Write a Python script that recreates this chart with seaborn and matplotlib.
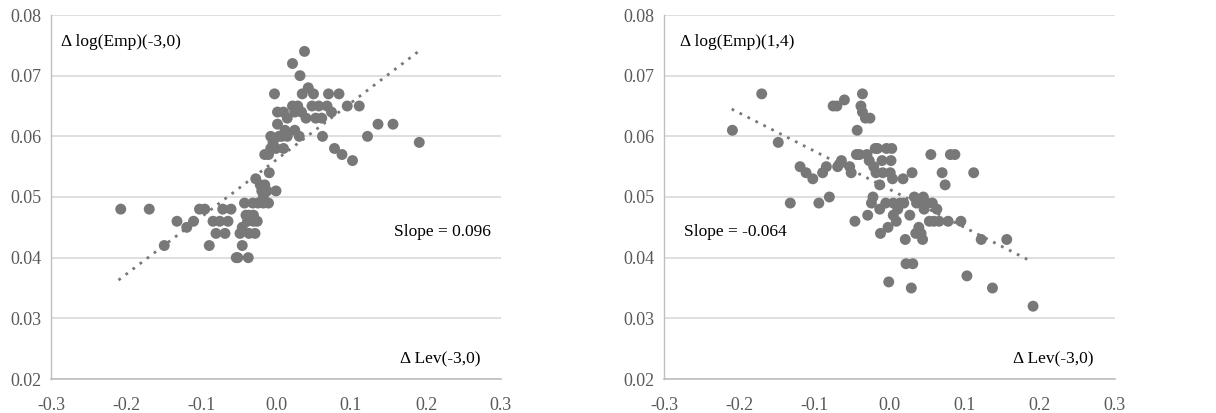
import matplotlib
matplotlib.use("Agg")
import matplotlib.pyplot as plt
import seaborn as sns
import pandas as pd

# ---- data: left panel (Δ Lev(-3,0) vs Δ log(Emp)(-3,0)) ----
left_x = [-0.207, -0.169, -0.149, -0.132, -0.119, -0.110, -0.102, -0.095, -0.089, -0.084,
          -0.080, -0.075, -0.071, -0.068, -0.064, -0.060, -0.053, -0.051, -0.048, -0.045,
          -0.045, -0.042, -0.037, -0.040, -0.036, -0.030, -0.038, -0.030, -0.025, -0.036,
          -0.028, -0.031, -0.024, -0.027, -0.021, -0.015, -0.019, -0.017, -0.017, -0.010,
          -0.012, -0.009, 0.000, -0.015, -0.010, -0.007, -0.007, -0.004, 0.000, 0.010,
          0.004, 0.008, 0.012, 0.015, -0.002, 0.002, 0.002, 0.010, 0.015, 0.022,
          0.022, 0.025, 0.029, 0.025, 0.031, 0.032, 0.038, 0.035, 0.034, 0.040,
          0.043, 0.048, 0.050, 0.053, 0.057, 0.061, 0.062, 0.070, 0.068, 0.074,
          0.078, 0.084, 0.088, 0.095, 0.102, 0.111, 0.122, 0.136, 0.156, 0.191]
left_y = [0.048, 0.048, 0.042, 0.046, 0.045, 0.046, 0.048, 0.048, 0.042, 0.046,
          0.044, 0.046, 0.048, 0.044, 0.046, 0.048, 0.040, 0.040, 0.044, 0.042,
          0.045, 0.049, 0.040, 0.047, 0.047, 0.047, 0.046, 0.046, 0.046, 0.044,
          0.044, 0.049, 0.049, 0.053, 0.052, 0.052, 0.051, 0.050, 0.049, 0.049,
          0.051, 0.054, 0.051, 0.057, 0.057, 0.058, 0.060, 0.059, 0.058, 0.058,
          0.060, 0.060, 0.061, 0.060, 0.067, 0.064, 0.062, 0.064, 0.063, 0.072,
          0.065, 0.064, 0.065, 0.061, 0.060, 0.070, 0.074, 0.067, 0.064, 0.063,
          0.068, 0.065, 0.067, 0.063, 0.065, 0.063, 0.060, 0.067, 0.065, 0.064,
          0.058, 0.067, 0.057, 0.065, 0.056, 0.065, 0.060, 0.062, 0.062, 0.059]
left_trend_x = [-0.21, 0.19]
left_trend_y = [0.0363, 0.0740]

# ---- data: right panel (Δ Lev(-3,0) vs Δ log(Emp)(1,4)) ----
right_x = [-0.209, -0.170, -0.148, -0.132, -0.119, -0.111, -0.102, -0.094, -0.089, -0.084,
           -0.080, -0.075, -0.070, -0.060, -0.069, -0.064, -0.053, -0.051, -0.046, -0.044,
           -0.040, -0.043, -0.036, -0.038, -0.036, -0.032, -0.026, -0.030, -0.027, -0.029,
           -0.021, -0.019, -0.016, -0.018, -0.022, -0.024, -0.013, -0.012, -0.013, -0.009,
           -0.010, -0.004, 0.003, 0.002, 0.001, 0.004, -0.005, -0.002, -0.001, 0.005,
           0.005, 0.009, 0.011, 0.014, 0.018, 0.019, 0.021, 0.022, 0.027, 0.029,
           0.030, 0.031, 0.033, 0.036, 0.035, 0.039, 0.042, 0.044, 0.045, 0.046,
           0.050, 0.053, 0.055, 0.057, 0.059, 0.063, 0.066, 0.070, 0.074, 0.078,
           0.081, 0.087, 0.095, 0.103, 0.112, 0.122, 0.137, 0.156, 0.191]
right_y = [0.061, 0.067, 0.059, 0.049, 0.055, 0.054, 0.053, 0.049, 0.054, 0.055,
           0.050, 0.065, 0.065, 0.066, 0.055, 0.056, 0.055, 0.054, 0.046, 0.057,
           0.057, 0.061, 0.067, 0.065, 0.064, 0.063, 0.063, 0.057, 0.056, 0.047,
           0.055, 0.058, 0.058, 0.054, 0.050, 0.049, 0.052, 0.044, 0.048, 0.054,
           0.056, 0.058, 0.058, 0.056, 0.054, 0.053, 0.049, 0.045, 0.036, 0.049,
           0.047, 0.046, 0.048, 0.049, 0.053, 0.049, 0.043, 0.039, 0.047, 0.035,
           0.054, 0.039, 0.050, 0.049, 0.044, 0.045, 0.044, 0.043, 0.050, 0.048,
           0.049, 0.046, 0.057, 0.049, 0.046, 0.048, 0.046, 0.054, 0.052, 0.046,
           0.057, 0.057, 0.046, 0.037, 0.054, 0.043, 0.035, 0.043, 0.032]
right_trend_x = [-0.21, 0.19]
right_trend_y = [0.0645, 0.0393]

x_ticks = [-0.3, -0.2, -0.1, 0.0, 0.1, 0.2, 0.3]
x_tick_labels = ["-0.3", "-0.2", "-0.1", "0.0", "0.1", "0.2", "0.3"]
y_ticks = [0.02, 0.03, 0.04, 0.05, 0.06, 0.07, 0.08]
y_tick_labels = ["0.02", "0.03", "0.04", "0.05", "0.06", "0.07", "0.08"]

panels = [
    dict(x=left_x, y=left_y, tx=left_trend_x, ty=left_trend_y,
         ylabel="\u0394 log(Emp)(-3,0)", ylabel_pos=(-0.286, 0.0756),
         slope="Slope = 0.096", slope_pos=(0.158, 0.0443), slope_ha="left",
         xlabel="\u0394 Lev(-3,0)", xlabel_pos=(0.272, 0.0232)),
    dict(x=right_x, y=right_y, tx=right_trend_x, ty=right_trend_y,
         ylabel="\u0394 log(Emp)(1,4)", ylabel_pos=(-0.279, 0.0756),
         slope="Slope = -0.064", slope_pos=(-0.273, 0.0443), slope_ha="left",
         xlabel="\u0394 Lev(-3,0)", xlabel_pos=(0.272, 0.0232)),
]

sns.set_style("white")
plt.rcParams['font.family'] = ['Liberation Serif', 'DejaVu Serif']

fig = plt.figure(figsize=(12.16, 4.13), dpi=100)
axes_rects = [[51/1216, 34/413, 450/1216, 364/413],
              [664/1216, 34/413, 451/1216, 364/413]]

pt_color = "#787878"
tick_color = "#595959"

for rect, p in zip(axes_rects, panels):
    ax = fig.add_axes(rect)
    df = pd.DataFrame({"x": p["x"], "y": p["y"]})
    tdf = pd.DataFrame({"x": p["tx"], "y": p["ty"]})
    sns.lineplot(data=tdf, x="x", y="y", ax=ax, color=pt_color, linestyle=(0, (1, 2.2)),
                 linewidth=2.0, zorder=2)
    sns.scatterplot(data=df, x="x", y="y", ax=ax, color=pt_color, s=62,
                    edgecolor="none", zorder=3)
    ax.set_xlim(-0.3, 0.3)
    ax.set_ylim(0.02, 0.08)
    ax.set_xticks(x_ticks)
    ax.set_xticklabels(x_tick_labels)
    ax.set_yticks(y_ticks)
    ax.set_yticklabels(y_tick_labels)
    ax.set_xlabel("")
    ax.set_ylabel("")
    ax.yaxis.grid(True, color="#d9d9d9", linewidth=1.2)
    ax.xaxis.grid(False)
    ax.set_axisbelow(True)
    for s in ["top", "right"]:
        ax.spines[s].set_visible(False)
    ax.spines["left"].set_color("#bfbfbf")
    ax.spines["bottom"].set_color("#bfbfbf")
    ax.spines["left"].set_linewidth(1.0)
    ax.spines["bottom"].set_linewidth(1.2)
    ax.tick_params(axis="both", length=0, labelsize=13, colors=tick_color)
    ax.tick_params(axis="x", pad=13)
    ax.tick_params(axis="y", pad=7)
    ax.text(*p["ylabel_pos"], p["ylabel"], fontsize=12.5, color="black", va="center", ha="left")
    ax.text(*p["slope_pos"], p["slope"], fontsize=12.5, color="black", va="center", ha=p["slope_ha"])
    ax.text(*p["xlabel_pos"], p["xlabel"], fontsize=12.5, color="black", va="center", ha="right")

fig.savefig("out.png", dpi=100, facecolor="white")
